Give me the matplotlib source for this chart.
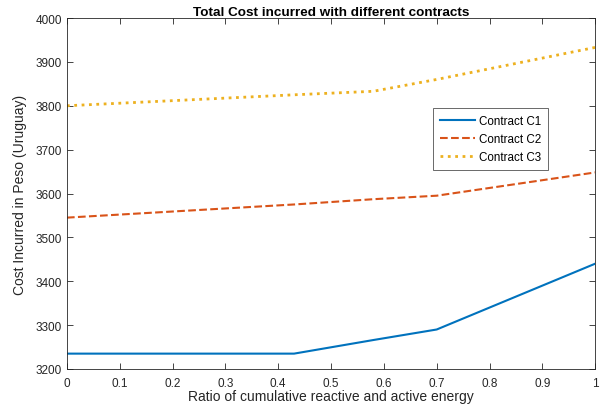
import numpy as np
import matplotlib.pyplot as plt

plt.rcParams['font.family'] = ['Liberation Sans', 'DejaVu Sans']

# datos
ratio = [0, 0.43, 0.58, 0.7, 1.0]
costo_c1 = [3235, 3235, 3266, 3290, 3440]
costo_c2 = [3545, 3575, 3587, 3595, 3648]
costo_c3 = [3800, 3825, 3833, 3860, 3933]
etiquetas = ['Contract C1', 'Contract C2', 'Contract C3']

fig = plt.figure(figsize=(6.03, 4.10), dpi=100)
ax = fig.add_axes([0.111, 0.0976, 0.876, 0.856])

ax.plot(ratio, costo_c1, '-', color=(0, 0.447, 0.741), lw=1.5, label=etiquetas[0])
ax.plot(ratio, costo_c2, '--', color=(0.85, 0.325, 0.098), lw=1.5, label=etiquetas[1])
ax.plot(ratio, costo_c3, ':', color=(0.929, 0.694, 0.125), lw=2, label=etiquetas[2])

ax.set_xlim(0, 1)
ax.set_ylim(3200, 4000)
ax.set_xticks(np.arange(0, 1.01, 0.1))
ax.set_xticklabels(['0', '0.1', '0.2', '0.3', '0.4', '0.5', '0.6', '0.7', '0.8', '0.9', '1'])
ax.set_yticks(np.arange(3200, 4001, 100))
ax.tick_params(direction='in', top=True, right=True, labelsize=8.5, length=4, width=0.6,
               colors='#262626')
ax.tick_params(axis='x', pad=6)
for s in ax.spines.values():
    s.set_linewidth(0.6)
    s.set_color('#262626')

ax.set_xlabel('Ratio of cumulative reactive and active energy', fontsize=10, labelpad=0, color='#262626')
ax.set_ylabel('Cost Incurred in Peso (Uruguay)', fontsize=10, labelpad=6, color='#262626')
ax.set_title('Total Cost incurred with different contracts', fontsize=9.7, fontweight='bold', pad=2)

leg = ax.legend(loc='upper left', bbox_to_anchor=(0.682, 0.76), fontsize=8.4,
                fancybox=False, edgecolor='#262626', handlelength=3, borderpad=0.6,
                handletextpad=0.3)
leg.get_frame().set_linewidth(0.6)

plt.savefig('out.png', dpi=100)
